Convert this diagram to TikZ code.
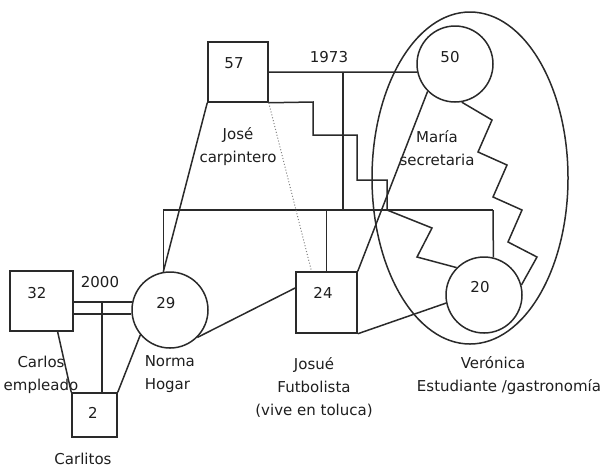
\documentclass[tikz,border=0pt]{standalone}
\usepackage{fontspec}
\setmainfont{DejaVu Sans}
\usetikzlibrary{calc,shapes.geometric}
\definecolor{ink}{HTML}{2A2A2A}
\definecolor{txt}{HTML}{1E1E1E}
\begin{document}
\begin{tikzpicture}[x=1pt,y=-1pt,line width=1.5pt,draw=ink,
  sq/.style={draw=ink,rectangle,inner sep=0pt},
  circ/.style={draw=ink,circle,inner sep=0pt,minimum size=76pt},
  num/.style={text=txt,inner sep=0pt,font=\fontsize{15}{18}\selectfont},
  lbl/.style={text=txt,inner sep=0pt,font=\fontsize{15}{23}\selectfont}]
\useasboundingbox (0,0) rectangle (609,467);
% family ellipse
\node[draw=ink,ellipse,inner sep=0pt,minimum width=196pt,minimum height=332pt] (fam) at (470,178) {};
% people
\node[sq,minimum width=60pt,minimum height=60pt] (s57) at (238,72) {};
\node[circ] (c50) at (455,64) {};
\node[sq,minimum width=61pt,minimum height=61pt] (s24) at (326.5,302.5) {};
\node[circ] (c29) at (170,310) {};
\node[circ] (c20) at (484,295) {};
\node[sq,minimum width=63pt,minimum height=60pt] (s32) at (41.5,301) {};
\node[sq,minimum width=45pt,minimum height=44pt] (s2) at (94.5,415) {};
% numbers
\node[num] (t57) at (234,63) {57};
\node[num] (t50) at (450,57) {50};
\node[num] (t24) at (323,293) {24};
\node[num] (t29) at (166,303) {29};
\node[num] (t20) at (480,287) {20};
\node[num] (t32) at (37,293) {32};
\node[num] (t2) at (93,413) {2};
\node[num] (y1973) at (329,57) {1973};
\node[num] (y2000) at (100,282) {2000};
% labels
\node[lbl,align=center] (lJose) at (238,147) {José\\carpintero};
\node[lbl,align=center] (lMaria) at (437,148) {María\\secretaria};
\node[lbl,align=center] (lCarlos) at (41,374.5) {Carlos\\empleado};
\node[lbl,align=left,anchor=west] (lNorma) at (144,374.5) {Norma\\Hogar};
\node[lbl,align=center] (lJosue) at (314,387) {Josué\\Futbolista\\(vive en toluca)};
\node[lbl,align=center] (lVero) at (509,375.5) {Verónica\hspace*{32pt}\\Estudiante /gastronomía};
\node[lbl] (lCarlitos) at (83,459) {Carlitos};
% couple 1973
\coordinate (m1) at (343,72);
\coordinate (sibL) at (c29.100 |- 0,210);
\coordinate (sibR) at (493,210);
\draw (s57.east) -- (c50.192);
\draw (m1) -- (m1 |- sibL);
\draw (sibL) -- (sibR);
\draw (sibL) -- (c29.100);
\draw (s24.north |- sibL) -- (s24.north);
\draw (sibR) -- (c20.76);
% relations
\draw (s57.south east) -- (313,102) -- (313,135) -- (357,135) -- (357,180) -- (387,180) -- (387,210)
      -- (432,228) -- (417,257) -- (c20.135);
\draw (c50.-80) -- (492,120) -- (478,152) -- (507,165) -- (493,197) -- (522,210) -- (508,242)
      -- (537,257) -- (c20.15);
\draw (c50.225) -- (s24.north east);
\draw (s24.south east) -- (c20.192);
\draw (c29.-45) -- (s24.155);
\draw (s57.south west) -- (c29.100);
\draw[dotted,gray,line width=1pt] (s57.south east) -- ($(s24.north west)!0.26!(s24.north east)$);
% couple 2000
\coordinate (m2) at (102,302);
\draw (s32.east |- c29.168) -- (c29.168);
\draw (s32.east |- c29.186) -- (c29.186);
\draw (m2 |- c29.168) -- (m2 |- s2.north);
\draw ($(s32.south west)!0.75!(s32.south east)$) -- (s2.north west);
\draw (c29.220) -- (s2.north east);
\end{tikzpicture}
\end{document}
